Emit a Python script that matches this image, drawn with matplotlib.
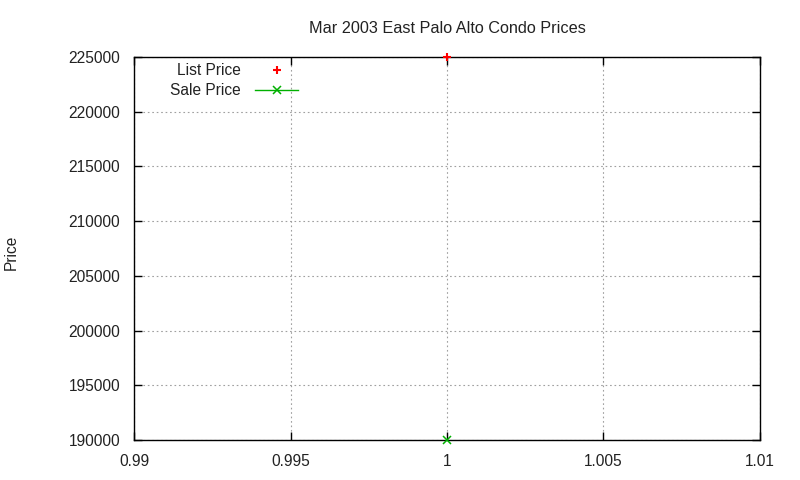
import matplotlib
matplotlib.use('Agg')
import matplotlib.pyplot as plt

plt.rcParams['font.family'] = ['Liberation Sans', 'DejaVu Sans']
plt.rcParams['font.size'] = 11.2

# data
list_x = [1.0]
list_price = [225000]
sale_x = [1.0]
sale_price = [190000]

xticks = [0.99, 0.995, 1.0, 1.005, 1.01]
xtick_labels = ['0.99', '0.995', '1', '1.005', '1.01']
yticks = [190000, 195000, 200000, 205000, 210000, 215000, 220000, 225000]

fig = plt.figure(figsize=(8, 4.8), dpi=100)
ax = fig.add_axes([0.1675, 0.0833, 0.7825, 0.7979])

ax.plot(list_x, list_price, linestyle='none', marker='+', color='red',
        markersize=6, markeredgewidth=1.5, label='List Price', clip_on=False, zorder=5)
ax.plot(sale_x, sale_price, linestyle='-', marker='x', color='#00b000',
        markersize=6, markeredgewidth=1.1, linewidth=1, label='Sale Price', clip_on=False, zorder=5)

ax.set_xlim(0.99, 1.01)
ax.set_ylim(190000, 225000)
ax.set_xticks(xticks)
ax.set_xticklabels(xtick_labels)
ax.set_yticks(yticks)
ax.set_yticklabels([str(v) for v in yticks])

ax.grid(True, linestyle=(0, (1.5, 2.5)), color='#a0a0a0', linewidth=0.8)
ax.tick_params(direction='in', top=True, right=True, length=6, width=1,
               colors='black', labelcolor='#222222', pad=10)
for s in ax.spines.values():
    s.set_linewidth(1)

ax.set_title('Mar 2003 East Palo Alto Condo Prices', fontsize=11.7, pad=17, color='#222222')
ax.set_ylabel('Price', color='#222222')
ax.yaxis.set_label_coords(19 / 800, 0.475, transform=fig.transFigure)

leg = ax.legend(loc='upper right', bbox_to_anchor=(298 / 800, 1 - 63 / 480),
                bbox_transform=fig.transFigure, frameon=False,
                markerfirst=False, handlelength=2.75, handletextpad=0.9,
                borderaxespad=0, borderpad=0, labelspacing=0.32)
for t in leg.get_texts():
    t.set_ha('right')
    t.set_color('#222222')

fig.savefig('out.png', dpi=100)
